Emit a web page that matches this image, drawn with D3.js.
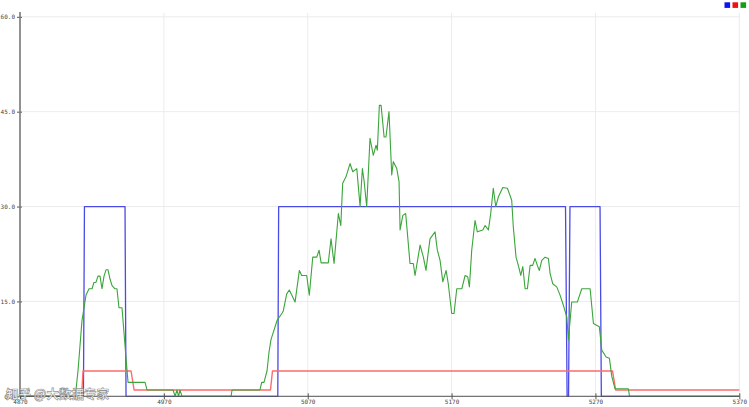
<!DOCTYPE html>
<html>
<head>
<meta charset="utf-8">
<script src="https://cdn.jsdelivr.net/npm/d3@7"></script>
<style>
  html, body { margin: 0; padding: 0; background: #ffffff; }
  svg { display: block; }
</style>
</head>
<body>
<svg id="chart" width="749" height="407"></svg>
<script>
// ---- data ----
const xTicks = [4870, 4970, 5070, 5170, 5270, 5370];
const yTicks = [0, 15, 30, 45, 60];
const seriesNames = ["blue", "red", "green"];

const blueX = [4870, 4914.1, 4914.8, 4943.0, 4943.7, 5049.2, 5049.8, 5249.2, 5250.3, 5251.3, 5252.3, 5273.2, 5274.1, 5370];
const blueY = [0, 0, 30, 30, 0, 0, 30, 30, 0, 0, 30, 30, 0, 0];

const redX = [4870, 4912.8, 4913.8, 4947.2, 4949.3, 5044.1, 5045.5, 5281.9, 5284.0, 5370];
const redY = [0, 0, 4, 4, 1, 1, 4, 4, 1, 1];

const greenX = [4870, 4907.5, 4908.9, 4910.3, 4911.7, 4913.1, 4914.5, 4915.9, 4918.0, 4920.1,
  4921.4, 4922.8, 4924.2, 4925.6, 4927.0, 4928.4, 4929.8, 4931.2, 4932.6, 4934.0,
  4936.0, 4937.4, 4938.8, 4940.9, 4942.3, 4943.7, 4945.1, 4956.9, 4958.3, 4976.4,
  4977.8, 4979.1, 4980.2, 4981.2, 4982.6, 5016.7, 5017.4, 5036.8, 5038.0, 5039.6,
  5041.7, 5043.1, 5044.5, 5045.9, 5047.3, 5048.7, 5049.6, 5052.0, 5053.0, 5055.4,
  5057.2, 5058.9, 5061.2, 5064.2, 5065.8, 5069.3, 5071.1, 5073.5, 5076.3, 5077.9,
  5079.3, 5084.3, 5086.2, 5088.3, 5091.3, 5093.0, 5094.3, 5096.6, 5099.4, 5101.3,
  5104.1, 5106.4, 5108.0, 5109.1, 5111.0, 5113.3, 5115.6, 5117.5, 5118.4, 5119.8,
  5121.0, 5123.1, 5124.4, 5126.5, 5128.4, 5129.5, 5131.9, 5133.5, 5134.2, 5136.1,
  5138.1, 5141.1, 5143.4, 5144.6, 5148.1, 5150.4, 5152.2, 5155.0, 5158.5, 5160.1,
  5162.0, 5163.9, 5166.2, 5167.7, 5170.1, 5171.7, 5173.6, 5177.1, 5179.4, 5181.2,
  5182.4, 5184.0, 5186.3, 5187.9, 5191.7, 5193.3, 5195.6, 5197.2, 5199.0, 5200.7,
  5202.5, 5205.6, 5208.8, 5211.8, 5212.9, 5214.8, 5216.4, 5218.1, 5219.5, 5221.1,
  5222.7, 5224.6, 5226.4, 5228.0, 5229.6, 5231.0, 5232.7, 5235.0, 5237.3, 5238.5,
  5240.3, 5243.1, 5245.4, 5247.7, 5250.1, 5251.2, 5253.5, 5257.4, 5260.5, 5266.3,
  5268.6, 5272.7, 5274.4, 5277.4, 5279.7, 5281.4, 5283.6, 5292.9, 5293.7, 5370];
const greenY = [0, 0, 1, 4, 8, 12, 14, 16, 17, 17,
  18, 18, 19, 19, 17, 19, 20, 20, 18.5, 17.5,
  17, 17, 14, 14, 10, 6, 2.2, 2.2, 1, 1,
  0, 1, 0, 1, 0, 0, 1, 1, 2.2, 2.2,
  4, 7, 9, 10, 11, 12, 12.3, 13.1, 13.5, 16.2,
  16.8, 16.0, 14.9, 19.9, 19.1, 19.1, 16.0, 22.0, 22.0, 23.1,
  21.1, 21.1, 24.9, 21.0, 28.9, 27.0, 33.7, 34.7, 36.8, 35.5,
  36.0, 30.0, 36.0, 34.2, 30.0, 40.8, 38.1, 39.7, 38.9, 46.0,
  46.0, 41.0, 41.0, 45.0, 35.0, 37.1, 36.0, 33.9, 26.3, 28.6,
  28.9, 21.0, 21.0, 19.1, 23.9, 22.0, 19.9, 24.9, 26.0, 23.1,
  21.5, 18.1, 19.9, 17.8, 13.1, 13.1, 17.0, 17.0, 19.1, 18.9,
  17.3, 23.1, 27.8, 26.0, 26.3, 27.0, 26.3, 28.9, 32.9, 30.0,
  31.5, 33.0, 32.9, 31.0, 26.8, 22.0, 20.7, 19.1, 20.5, 17.0,
  17.0, 20.7, 20.7, 21.8, 20.7, 19.9, 21.5, 22.0, 21.8, 19.4,
  17.8, 17.3, 16.0, 14.4, 12.5, 8.9, 14.9, 14.9, 17.0, 17.0,
  11.5, 11.0, 7.3, 6.2, 6.0, 3.1, 1.2, 1.2, 0, 0];

// ---- layout ----
const svg = d3.select("#chart");
const x = d3.scaleLinear().domain([4870, 5370]).range([20, 739.3]);
const y = d3.scaleLinear().domain([0, 60]).range([396.3, 16.8]);

const fmtY = d3.format(".1f");
const fontMono = "'DejaVu Sans Mono', 'Liberation Mono', monospace";

// grid
const grid = svg.append("g");
grid.selectAll("line.gx").data(xTicks).join("line")
  .attr("x1", d => x(d)).attr("x2", d => x(d))
  .attr("y1", y(60) - 4).attr("y2", y(0))
  .attr("stroke", "#ececec").attr("stroke-width", 1);
grid.selectAll("line.gy").data(yTicks).join("line")
  .attr("x1", x(4870)).attr("x2", x(5370))
  .attr("y1", d => y(d)).attr("y2", d => y(d))
  .attr("stroke", "#ececec").attr("stroke-width", 1);

// lines
const line = d3.line().x(d => x(d[0])).y(d => y(d[1]));
function pts(xs, ys) { return xs.map((v, i) => [v, ys[i]]); }

const series = [
  { name: "blue", data: pts(blueX, blueY), color: "#4a4ae6", w: 1.3 },
  { name: "red", data: pts(redX, redY), color: "#ff6b6b", w: 1.4 },
  { name: "green", data: pts(greenX, greenY), color: "#3aa53a", w: 1.1 }
];

svg.append("g").selectAll("path").data(series).join("path")
  .attr("d", d => line(d.data))
  .attr("fill", "none")
  .attr("stroke", d => d.color)
  .attr("stroke-width", d => d.w)
  .attr("stroke-linejoin", "round");

// axes
const yAxis = d3.axisLeft(y).tickValues(yTicks).tickFormat(fmtY).tickSize(3).tickPadding(2);
const gy = svg.append("g").attr("transform", `translate(${x(4870)},0)`).call(yAxis);
gy.select(".domain").remove();
gy.append("line").attr("x1", 0).attr("x2", 0).attr("y1", 12).attr("y2", y(0))
  .attr("stroke", "#7a7a7a").attr("stroke-width", 1.6);
gy.selectAll(".tick line").attr("stroke", "#555").attr("x2", 2).attr("x1", -3);
gy.selectAll(".tick text").attr("font-family", fontMono).attr("font-size", 6)
  .attr("fill", "#444").attr("x", -5);

const xAxis = d3.axisBottom(x).tickValues(xTicks).tickFormat(d3.format("d")).tickSize(3).tickPadding(2);
const gx = svg.append("g").attr("transform", `translate(0,${y(0)})`).call(xAxis);
gx.select(".domain").remove();
gx.append("line").attr("x1", x(4870)).attr("x2", x(5370)).attr("y1", 0).attr("y2", 0)
  .attr("stroke", "#555").attr("stroke-width", 1);
gx.selectAll(".tick line").attr("stroke", "#555").attr("y1", -3).attr("y2", 3);
gx.selectAll(".tick text").attr("font-family", fontMono).attr("font-size", 6)
  .attr("fill", "#444").attr("dy", "0.5em");

// legend squares
const legendColors = ["#1010f0", "#f01010", "#10a010"];
svg.append("g").selectAll("rect").data(seriesNames).join("rect")
  .attr("x", (d, i) => 724.5 + i * 8)
  .attr("y", 2.3)
  .attr("width", 5.6).attr("height", 5.6)
  .attr("fill", (d, i) => legendColors[i]);

// watermark
svg.append("text")
  .attr("x", 6).attr("y", 399)
  .attr("font-family", "'Noto Sans CJK SC', sans-serif")
  .attr("font-size", 12.5)
  .attr("font-weight", "bold")
  .attr("fill", "#ffffff")
  .attr("fill-opacity", 0.9)
  .attr("stroke", "#777")
  .attr("stroke-width", 0.7)
  .attr("stroke-opacity", 0.8)
  .text("知乎 @大数据专家");
</script>
</body>
</html>
